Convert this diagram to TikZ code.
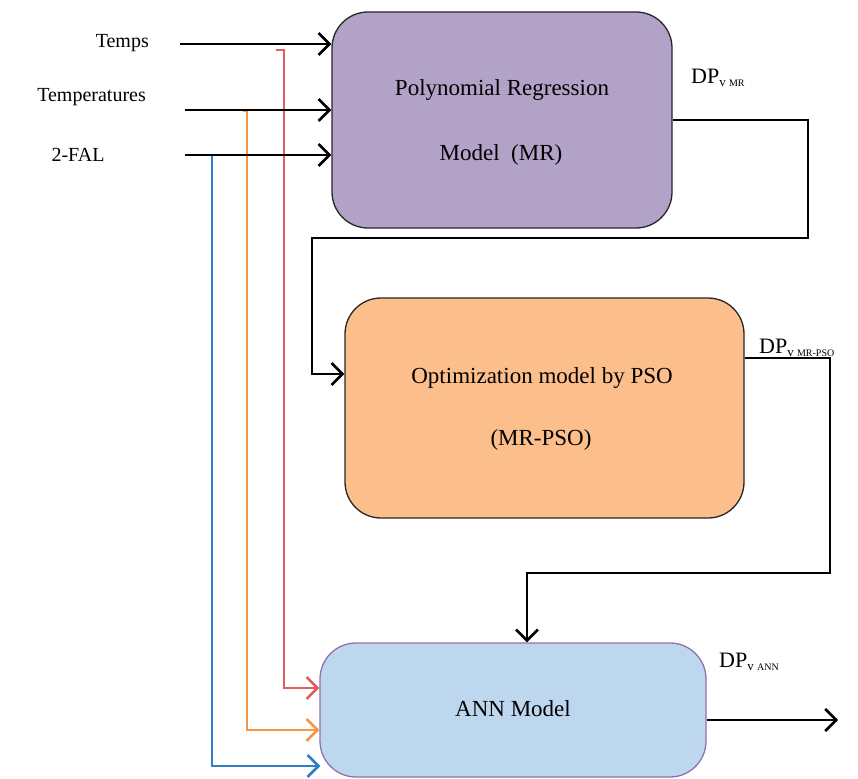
\documentclass[tikz,border=0pt]{standalone}
\usepackage{fontspec}
\setmainfont{Liberation Serif}
\usetikzlibrary{arrows.meta}
\definecolor{mrfill}{HTML}{B3A2C7}
\definecolor{psofill}{HTML}{FCBF8C}
\definecolor{annfill}{HTML}{BDD7EE}
\definecolor{annborder}{HTML}{8F72B0}
\definecolor{redln}{HTML}{E06060}
\definecolor{orangeln}{HTML}{F79646}
\definecolor{blueln}{HTML}{2E7FC4}
\tikzset{
  x=1pt,y=-1pt,
  modelbox/.style={draw=black!85,line width=1.3pt,rounded corners=36pt,align=center,inner sep=0pt},
  boxtxt/.style={font=\fontsize{23}{28}\selectfont,inner sep=0pt},
  lbl/.style={font=\fontsize{20}{24}\selectfont,inner sep=0pt},
  dplbl/.style={font=\fontsize{22}{26}\selectfont,inner sep=0pt,anchor=west},
  conn/.style={line width=2.8pt,-{Straight Barb[length=11pt,width=22pt,line width=2.6pt]}},
  feed/.style={line width=2.8pt,-{Straight Barb[length=11pt,width=22pt,line width=2.6pt]}}
}
\newcommand{\dpsub}[1]{DP\raisebox{-0.3ex}{\fontsize{13}{14}\selectfont v\ \fontsize{10}{12}\selectfont #1}}
\begin{document}
\begin{tikzpicture}
\useasboundingbox (0,0) rectangle (858,778);
% boxes
\node[modelbox,fill=mrfill,minimum width=340pt,minimum height=216pt] (MR) at (502,120) {};
\node[modelbox,fill=psofill,minimum width=399pt,minimum height=220pt] (PSO) at (544.5,408) {};
\node[modelbox,draw=annborder,fill=annfill,minimum width=386pt,minimum height=134pt] (ANN) at (513,710) {};
% box texts
\node[boxtxt] (mrt1) at (502,90) {Polynomial Regression};
\node[boxtxt] (mrt2) at (501,155) {Model\ \ (MR)};
\node[boxtxt] (psot1) at (542,378) {Optimization model by PSO};
\node[boxtxt] (psot2) at (541,440) {(MR-PSO)};
\node[boxtxt] (annt) at (513,709) {ANN Model};
% input labels
\node[lbl,anchor=east] (temps) at (149,43) {Temps};
\node[lbl,anchor=east] (temper) at (146,97) {Temperatures};
\node[lbl] (fal) at (78,155) {2-FAL};
% output labels
\node[dplbl] (dpmr) at (691,78) {\dpsub{MR}};
\node[dplbl] (dppso) at (759,348) {\dpsub{MR-PSO}};
\node[dplbl] (dpann) at (719,662) {\dpsub{ANN}};
% coordinates
\coordinate (s1) at (180,44);
\coordinate (s2) at (185,110);
\coordinate (s3) at (185,155);
\coordinate (r0) at (276,50);
\coordinate (o0) at (243,111);
\coordinate (b0) at (186,155);
\coordinate (outann) at (838,720);
% colored feed lines to ANN
\draw[feed,redln] (r0) -- (284,50) -- (284,688) -- (ANN.west |- 0,688);
\draw[feed,orangeln] (o0) -- (247,111) -- (247,730) -- (ANN.west |- 0,730);
\draw[feed,blueln] (b0) -- (212,155) -- (212,766) -- ([xshift=1pt]ANN.west |- 0,766);
% inputs to MR
\draw[conn] (s1) -- (MR.west |- s1);
\draw[conn] (s2) -- (MR.west |- s2);
\draw[conn] (s3) -- (MR.west |- s3);
% MR -> PSO
\draw[conn] (MR.east |- 0,120) -- (808,120) -- (808,238) -- (312,238) -- (312,374) -- (PSO.west |- 0,374);
% PSO -> ANN
\draw[conn] (PSO.east |- 0,358) -- (830,358) -- (830,573) -- (527,573) -- (ANN.north -| 527,0);
% ANN output
\draw[conn] (ANN.east |- outann) -- (outann);
\end{tikzpicture}
\end{document}
